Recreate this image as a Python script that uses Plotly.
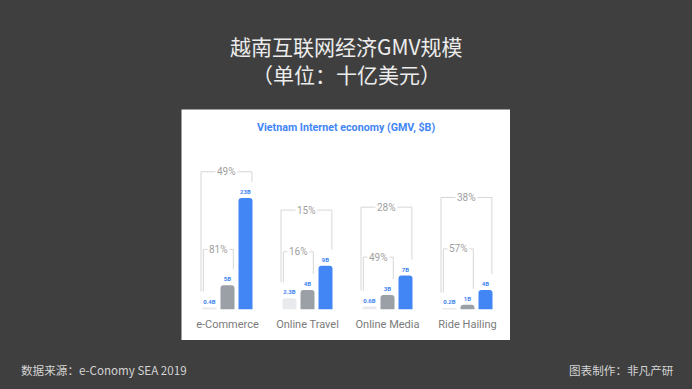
import plotly.graph_objects as go

# ---------------- data ----------------
categories = ["e-Commerce", "Online Travel", "Online Media", "Ride Hailing"]
gmv_2015 = [0.4, 2.3, 0.6, 0.2]
gmv_2019 = [5, 4, 3, 1]
gmv_2025 = [23, 9, 7, 4]
labels_2015 = ["0.4B", "2.3B", "0.6B", "0.2B"]
labels_2019 = ["5B", "4B", "3B", "1B"]
labels_2025 = ["23B", "9B", "7B", "4B"]
cagr_15_19 = ["81%", "16%", "49%", "57%"]
cagr_15_25 = ["49%", "15%", "28%", "38%"]
title_lines = ["越南互联网经济GMV规模", "（单位：十亿美元）"]

# ---------------- layout constants ----------------
W, H = 692, 389
BG = "#3f3f3f"
BLUE = "#4285F4"
GRAY = "#9AA0A6"
LIGHT = "#E8EAED"
LINE = "#d6d6d6"
PCT = "#a0a0a0"

PX_PER_B = 4.85          # vertical scale (px per $B)
BASE_PX = 309.5          # baseline position, px from top
X0_PX, X1_PX = 187.5, 507.5  # x range [-0.5, 3.5]
YMAX = BASE_PX / PX_PER_B

big_top = [28.4, 20.5, 21.1, 23.1]    # bracket heights ($B units)
small_top = [12.4, 11.9, 10.8, 12.5]
end_gap = 16 / PX_PER_B                # bracket leg ends above bar

x = list(range(len(categories)))

fig = go.Figure()
for vals, labs, col in [(gmv_2015, labels_2015, LIGHT),
                        (gmv_2019, labels_2019, GRAY),
                        (gmv_2025, labels_2025, BLUE)]:
    fig.add_trace(go.Bar(
        x=x, y=vals, marker=dict(color=col, line=dict(width=0)),
        text=labs, textposition="outside", cliponaxis=False,
        constraintext="none",
        textfont=dict(family="Roboto", size=6, color=BLUE, weight="bold"),
        hoverinfo="skip", showlegend=False,
    ))

shapes = [dict(type="rect", xref="paper", yref="paper",
               x0=181.5 / W, x1=510 / W, y0=1 - 340 / H, y1=1 - 109.5 / H,
               fillcolor="white", line=dict(width=0), layer="below")]
annotations = []

off = 0.225
for i in x:
    # big bracket (2015 -> 2025)
    lx, rx = i - 0.331, i + off + 0.08
    ly = gmv_2015[i] + end_gap
    ry = gmv_2025[i] + end_gap
    t = big_top[i]
    shapes.append(dict(type="path", xref="x", yref="y",
                       path=f"M {lx},{ly} L {lx},{t} L {rx},{t} L {rx},{ry}",
                       line=dict(color=LINE, width=1)))
    annotations.append(dict(x=(lx + rx) / 2, y=t, xref="x", yref="y",
                            text=cagr_15_25[i], showarrow=False,
                            bgcolor="white", borderpad=1,
                            font=dict(family="Roboto", size=10, color=PCT)))
    # small bracket (2015 -> 2019)
    lx2, rx2 = i - 0.302, i + 0.0725
    ry2 = gmv_2019[i] + end_gap
    t2 = small_top[i]
    shapes.append(dict(type="path", xref="x", yref="y",
                       path=f"M {lx2},{ly} L {lx2},{t2} L {rx2},{t2} L {rx2},{ry2}",
                       line=dict(color=LINE, width=1)))
    annotations.append(dict(x=(lx2 + rx2) / 2, y=t2, xref="x", yref="y",
                            text=cagr_15_19[i], showarrow=False,
                            bgcolor="white", borderpad=1,
                            font=dict(family="Roboto", size=10, color=PCT)))

# titles and footers
for line, ypx in zip(title_lines, [46, 74]):
    annotations.append(dict(x=0.5, y=1 - ypx / H, xref="paper", yref="paper",
                            xanchor="center", yanchor="middle",
                            text=line, showarrow=False,
                            font=dict(family="Noto Sans CJK SC", size=21,
                                      color="#ececec")))
annotations += [
    dict(x=346 / W, y=1 - 127.5 / H, xref="paper", yref="paper",
         xanchor="center", yanchor="middle",
         text="Vietnam Internet economy (GMV, $B)", showarrow=False,
         font=dict(family="Roboto", size=10.7, color=BLUE, weight="bold")),
    dict(x=19 / W, y=1 - 370 / H, xref="paper", yref="paper",
         xanchor="left", yanchor="middle",
         text="数据来源：e-Conomy SEA 2019", showarrow=False,
         font=dict(family="Noto Sans CJK SC", size=11.6, color="#d4d4d4")),
    dict(x=676 / W, y=1 - 370 / H, xref="paper", yref="paper",
         xanchor="right", yanchor="middle",
         text="图表制作：非凡产研", showarrow=False,
         font=dict(family="Noto Sans CJK SC", size=11.6, color="#d4d4d4")),
]

fig.update_layout(
    width=W, height=H, margin=dict(l=0, r=0, t=0, b=0),
    paper_bgcolor=BG, plot_bgcolor="rgba(0,0,0,0)",
    barmode="group", bargap=0.325, bargroupgap=0.222, barcornerradius=3,
    shapes=shapes, annotations=annotations,
    xaxis=dict(domain=[X0_PX / W, X1_PX / W], range=[-0.5, 3.5],
               tickvals=x, ticktext=categories, showgrid=False, zeroline=False,
               showline=False, ticks="outside", ticklen=4,
               tickcolor="rgba(0,0,0,0)",
               tickfont=dict(family="Roboto", size=11, color="#7a7a7a")),
    yaxis=dict(domain=[1 - BASE_PX / H, 1], range=[0, YMAX], visible=False),
)

fig.write_html("out.html", config={"displayModeBar": False},
               post_script="document.body.style.margin='0';"
                           "document.body.style.background='" + BG + "';")
